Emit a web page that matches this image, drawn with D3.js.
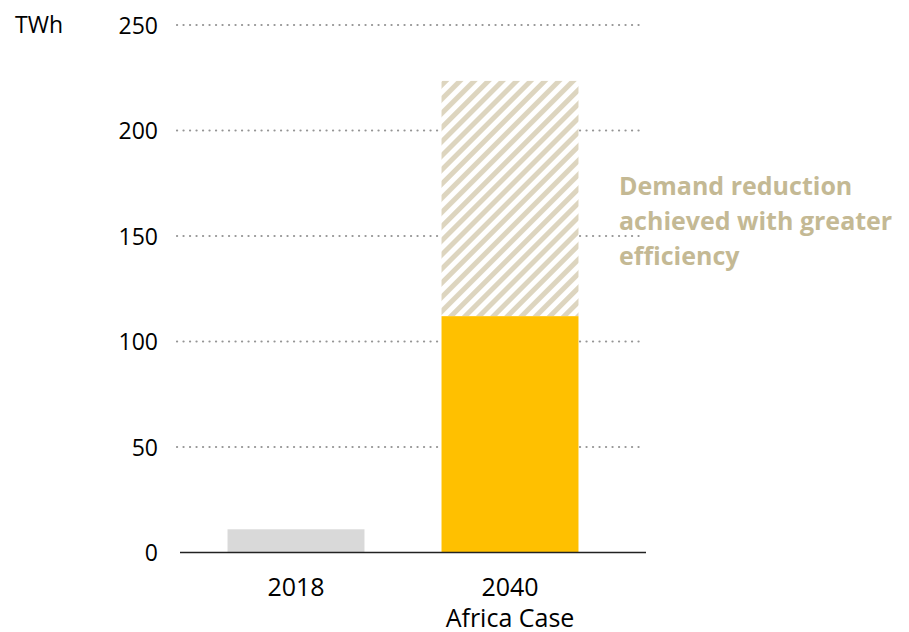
<!DOCTYPE html>
<html>
<head>
<meta charset="utf-8">
<script src="https://cdn.jsdelivr.net/npm/d3@7"></script>
<style>
  body { margin: 0; background: #fff; }
  text { font-family: "Open Sans", sans-serif; }
</style>
</head>
<body>
<div id="stage_id"></div>
<script>
// chart values
var categories = ["2018", "2040"];
var categoryLines = [["2018"], ["2040", "Africa Case"]];
var demand = [11, 112];             // TWh, solid bars
var avoided = [0, 111.5];           // TWh, hatched part stacked on top
var yTicks = [0, 50, 100, 150, 200, 250];
var unitLabel = "TWh";
var noteLines = ["Demand reduction", "achieved with greater", "efficiency"];
var barColors = ["#d9d9d9", "#ffc000"];

var width = 909, height = 632;

var svg = d3.select("#stage_id")
  .append("svg")
  .attr("width", width)
  .attr("height", height);

var yScale = d3.scaleLinear()
  .domain([0, 250])
  .range([552.5, 25]);

var xScale = d3.scaleBand()
  .domain(categories)
  .range([189, 617])
  .paddingInner(0.36)
  .paddingOuter(0.18);

// hatch pattern for the avoided demand
var defs = svg.append("defs");
var pat = defs.append("pattern")
  .attr("id", "hatch")
  .attr("patternUnits", "userSpaceOnUse")
  .attr("width", 10)
  .attr("height", 10)
  .attr("patternTransform", "rotate(45)");
pat.append("rect")
  .attr("width", 10).attr("height", 10)
  .attr("fill", "#ffffff");
pat.append("rect")
  .attr("width", 5).attr("height", 10)
  .attr("fill", "#ddd5bf");

// dotted gridlines
svg.selectAll(".grid")
  .data(yTicks.filter(function(d){ return d > 0; }))
  .enter()
  .append("line")
  .attr("class", "grid")
  .attr("x1", 177)
  .attr("x2", 645)
  .attr("y1", function(d){ return yScale(d); })
  .attr("y2", function(d){ return yScale(d); })
  .attr("stroke", "#959595")
  .attr("stroke-width", 2.2)
  .attr("stroke-linecap", "round")
  .attr("stroke-dasharray", "0.1,6.4");

// y tick labels
var yAxis = d3.axisLeft(yScale)
  .tickValues(yTicks)
  .tickSize(0)
  .tickPadding(0);

var gY = svg.append("g")
  .attr("transform", "translate(158,0)")
  .call(yAxis);
gY.select(".domain").remove();
gY.selectAll("text")
  .attr("fill", "#000")
  .style("font-size", "23px")
  .style("font-family", "'Open Sans', sans-serif")
  .attr("dy", "0.36em");

svg.append("text")
  .attr("x", 15)
  .attr("y", 33)
  .attr("font-size", "23px")
  .attr("fill", "#000")
  .text(unitLabel);

// hatched part
svg.selectAll(".avoided")
  .data(categories)
  .enter()
  .append("rect")
  .attr("class", "avoided")
  .attr("x", function(d){ return xScale(d); })
  .attr("width", xScale.bandwidth())
  .attr("y", function(d, i){ return yScale(demand[i] + avoided[i]); })
  .attr("height", function(d, i){ return yScale(demand[i]) - yScale(demand[i] + avoided[i]); })
  .attr("fill", "url(#hatch)");

// solid bars
svg.selectAll(".bar")
  .data(categories)
  .enter()
  .append("rect")
  .attr("class", "bar")
  .attr("x", function(d){ return xScale(d); })
  .attr("width", xScale.bandwidth())
  .attr("y", function(d, i){ return yScale(demand[i]); })
  .attr("height", function(d, i){ return yScale(0) - yScale(demand[i]); })
  .attr("fill", function(d, i){ return barColors[i]; });

// baseline
svg.append("line")
  .attr("x1", 180)
  .attr("x2", 646)
  .attr("y1", yScale(0))
  .attr("y2", yScale(0))
  .attr("stroke", "#222")
  .attr("stroke-width", 1.5);

// category labels
var catG = svg.selectAll(".cat")
  .data(categories)
  .enter()
  .append("text")
  .attr("class", "cat")
  .attr("text-anchor", "middle")
  .attr("font-size", "25px")
  .attr("fill", "#000")
  .attr("transform", function(d){
    return "translate(" + (xScale(d) + xScale.bandwidth() / 2) + ",596)";
  });

catG.selectAll("tspan")
  .data(function(d, i){ return categoryLines[i]; })
  .enter()
  .append("tspan")
  .attr("x", 0)
  .attr("y", function(d, j){ return j * 31; })
  .text(function(d){ return d; });

// annotation
svg.append("text")
  .attr("x", 619)
  .attr("y", 195)
  .attr("font-size", "25px")
  .attr("font-weight", "bold")
  .attr("fill", "#c4b994")
  .selectAll("tspan")
  .data(noteLines)
  .enter()
  .append("tspan")
  .attr("x", 619)
  .attr("y", function(d, i){ return 195 + i * 35; })
  .text(function(d){ return d; });
</script>
</body>
</html>
